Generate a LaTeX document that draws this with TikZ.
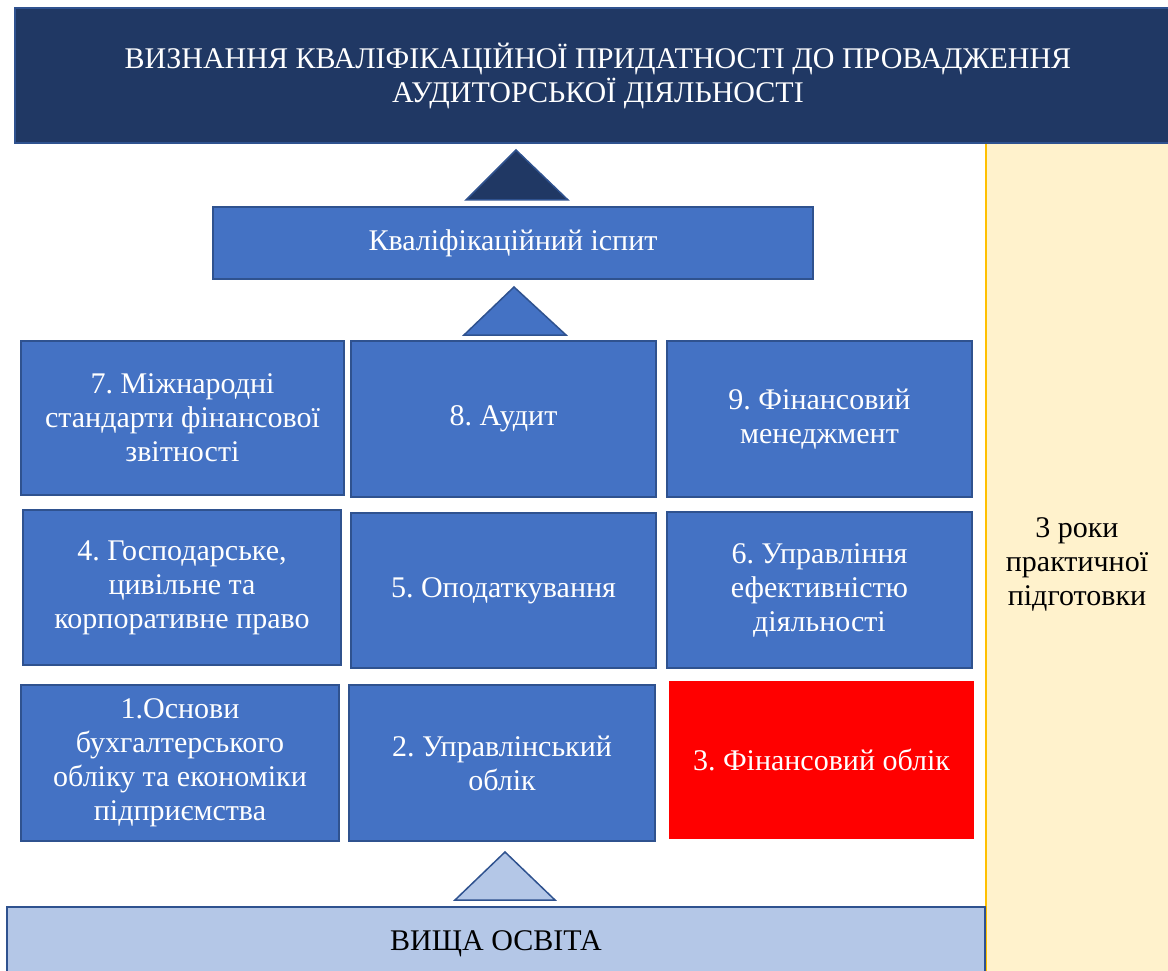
\documentclass[tikz,border=0pt]{standalone}
\usepackage{fontspec}
\setmainfont{Liberation Serif}
\frenchspacing
\definecolor{navy}{HTML}{203864}
\definecolor{boxblue}{HTML}{4472C4}
\definecolor{edgeblue}{HTML}{2F528F}
\definecolor{paleblue}{HTML}{B4C7E7}
\definecolor{paleyellow}{HTML}{FFF2CC}
\definecolor{gold}{HTML}{FFC000}
\begin{document}
\begin{tikzpicture}[x=1pt,y=-1pt]
\tikzstyle{every node}+=[inner sep=0pt, align=center, font=\fontsize{30}{34}\selectfont]
\tikzstyle{subject}=[draw=edgeblue, line width=1.5pt, fill=boxblue, text=white]
\useasboundingbox (0,0) rectangle (1168,971);
\node [draw=gold, line width=1.5pt, fill=paleyellow, minimum width=186pt, minimum height=832pt] (practice) at (1079,559) {};
\node at (1077,564) {3 роки\\практичної\\підготовки};
\node [draw=edgeblue, line width=1.5pt, fill=navy, text=white, minimum width=1166pt, minimum height=135pt] (title) at (598,75.5) {ВИЗНАННЯ КВАЛІФІКАЦІЙНОЇ ПРИДАТНОСТІ ДО ПРОВАДЖЕННЯ\\АУДИТОРСЬКОЇ ДІЯЛЬНОСТІ};
\draw [edgeblue, line width=1.5pt, fill=navy] (516,150) -- (466,200) -- (568,200) -- cycle;
\node [subject, minimum width=600pt, minimum height=72pt] (exam) at (513,243) {Кваліфікаційний іспит};
\draw [edgeblue, line width=1.5pt, fill=boxblue] (514,287) -- (464,335) -- (566,335) -- cycle;
\node [subject, minimum width=323pt, minimum height=154pt] (ifrs) at (182.5,418) {7. Міжнародні\\стандарти фінансової\\звітності};
\node [subject, minimum width=305pt, minimum height=156pt] (audit) at (503.5,419) {8. Аудит};
\node [subject, minimum width=305pt, minimum height=156pt] (finman) at (819.5,419) {9. Фінансовий\\менеджмент};
\node [subject, minimum width=318pt, minimum height=155pt] (law) at (182,587.5) {4. Господарське,\\цивільне та\\корпоративне право};
\node [subject, minimum width=305pt, minimum height=155pt] (tax) at (503.5,590.5) {5. Оподаткування};
\node [subject, minimum width=305pt, minimum height=156pt] (perf) at (819.5,590) {6. Управління\\ефективністю\\діяльності};
\node [subject, minimum width=318pt, minimum height=156pt] (basics) at (180,763) {1.Основи\\бухгалтерського\\обліку та економіки\\підприємства};
\node [subject, minimum width=306pt, minimum height=156pt] (mgmt) at (502,763) {2. Управлінський\\облік};
\node [fill=red, text=white, minimum width=305pt, minimum height=158pt] (finacc) at (821.5,760) {3. Фінансовий облік};
\draw [edgeblue, line width=1.5pt, fill=paleblue] (505,852) -- (455,900) -- (555,900) -- cycle;
\node [draw=edgeblue, line width=1.5pt, fill=paleblue, minimum width=978pt, minimum height=73pt] (higher) at (496,943.5) {ВИЩА ОСВІТА};
\end{tikzpicture}
\end{document}
